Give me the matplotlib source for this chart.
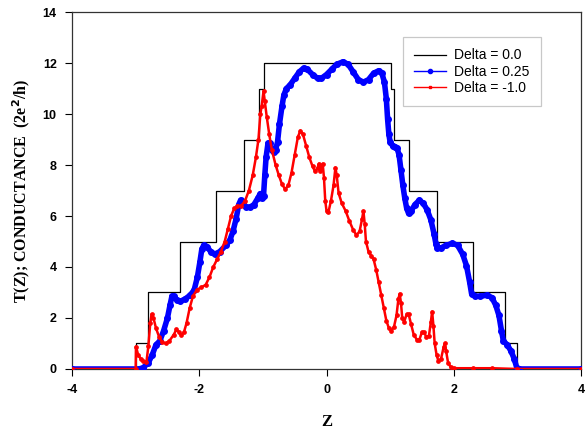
import matplotlib
matplotlib.use("Agg")
import matplotlib.pyplot as plt
from matplotlib.lines import Line2D
import numpy as np

plt.rcParams["axes.unicode_minus"] = False

# Delta = 0.0 staircase: step edges and levels
step_z = [-4.0, -3.0, -2.8, -2.3, -1.73, -1.3, -1.06, -0.99, 1.01, 1.06, 1.30, 1.73, 2.30, 2.80, 3.00, 4.0]
step_t = [0, 1, 3, 5, 7, 9, 11, 12, 11, 9, 7, 5, 3, 1, 0, 0]

# Delta = 0.25
blue_z = [-4.0, -2.95, -2.88, -2.80, -2.74, -2.68, -2.62, -2.56, -2.50, -2.46, -2.43, -2.40, -2.35, -2.30,
          -2.22, -2.14, -2.08, -2.03, -1.99, -1.96, -1.93, -1.88, -1.82, -1.76, -1.68, -1.58, -1.52, -1.47,
          -1.42, -1.38, -1.35, -1.31, -1.27, -1.20, -1.14, -1.08, -1.04, -1.01, -0.99, -0.97, -0.95, -0.92,
          -0.89, -0.86, -0.83, -0.80, -0.77, -0.74, -0.70, -0.67, -0.63, -0.57, -0.50, -0.43, -0.36, -0.30,
          -0.22, -0.14, -0.08, 0.0, 0.08, 0.16, 0.26, 0.34, 0.42, 0.50, 0.58, 0.66, 0.74, 0.82, 0.87, 0.91,
          0.94, 0.96, 0.98, 1.00, 1.04, 1.08, 1.11, 1.14, 1.17, 1.20, 1.23, 1.26, 1.29, 1.33, 1.39, 1.46,
          1.52, 1.58, 1.64, 1.69, 1.72, 1.74, 1.80, 1.88, 1.98, 2.06, 2.14, 2.20, 2.25, 2.28, 2.34, 2.42,
          2.52, 2.60, 2.66, 2.71, 2.75, 2.78, 2.84, 2.90, 2.95, 2.99, 3.02, 4.0]
blue_t = [0, 0, 0.05, 0.25, 0.55, 0.95, 1.1, 1.5, 2.0, 2.5, 2.85, 2.85, 2.7, 2.65,
          2.75, 2.9, 3.1, 3.6, 4.2, 4.7, 4.85, 4.8, 4.6, 4.5, 4.6, 4.85, 5.05, 5.4,
          5.9, 6.45, 6.62, 6.55, 6.35, 6.35, 6.45, 6.7, 6.88, 6.7, 6.8, 7.6, 8.3, 8.85,
          8.85, 8.6, 8.5, 8.6, 8.9, 9.6, 10.3, 10.75, 11.0, 11.15, 11.4, 11.65, 11.8, 11.75,
          11.55, 11.4, 11.4, 11.55, 11.75, 11.95, 12.05, 11.95, 11.65, 11.35, 11.25, 11.35, 11.6, 11.7, 11.6, 11.25,
          10.6, 9.8, 9.2, 8.9, 8.75, 8.7, 8.65, 8.4, 7.8, 7.2, 6.7, 6.3, 6.1, 6.2, 6.45, 6.62,
          6.5, 6.25, 5.85, 5.3, 4.9, 4.75, 4.75, 4.85, 4.93, 4.85, 4.5, 4.05, 3.4, 2.95, 2.85, 2.85,
          2.9, 2.8, 2.5, 2.1, 1.5, 1.1, 0.95, 0.7, 0.4, 0.05, 0, 0]

# Delta = -1.0
red_z = [-4.0, -3.0, -2.995, -2.96, -2.92, -2.88, -2.83, -2.80, -2.77, -2.75, -2.72, -2.68, -2.63, -2.58,
         -2.53, -2.47, -2.40, -2.36, -2.32, -2.28, -2.24, -2.20, -2.15, -2.10, -2.04, -1.97, -1.90, -1.84,
         -1.78, -1.72, -1.66, -1.60, -1.55, -1.50, -1.45, -1.40, -1.34, -1.28, -1.22, -1.16, -1.11, -1.07,
         -1.04, -1.02, -0.99, -0.97, -0.94, -0.90, -0.86, -0.80, -0.75, -0.70, -0.65, -0.60, -0.55, -0.50,
         -0.45, -0.41, -0.37, -0.32, -0.27, -0.22, -0.18, -0.14, -0.12, -0.10, -0.08, -0.06, -0.04, -0.02,
         0.0, 0.03, 0.07, 0.11, 0.14, 0.16, 0.19, 0.24, 0.30, 0.36, 0.42, 0.47, 0.52, 0.56, 0.58, 0.60,
         0.62, 0.66, 0.70, 0.74, 0.78, 0.82, 0.86, 0.90, 0.94, 0.98, 1.02, 1.06, 1.10, 1.13, 1.15, 1.17,
         1.19, 1.22, 1.26, 1.29, 1.33, 1.37, 1.42, 1.46, 1.50, 1.53, 1.57, 1.61, 1.64, 1.66, 1.68, 1.70,
         1.73, 1.76, 1.80, 1.84, 1.86, 1.88, 1.91, 1.95, 2.0, 2.3, 2.6, 3.0, 4.0]
red_t = [0, 0, 0.88, 0.55, 0.4, 0.3, 0.28, 0.9, 1.8, 2.15, 2.0, 1.6, 1.25, 1.05,
         1.0, 1.1, 1.35, 1.55, 1.45, 1.32, 1.45, 1.8, 2.4, 2.85, 3.1, 3.2, 3.3, 3.6,
         4.0, 4.3, 4.6, 5.0, 5.5, 6.0, 6.3, 6.4, 6.4, 6.6, 7.0, 7.6, 8.3, 9.0,
         10.0, 10.3, 10.9, 10.5, 9.9, 9.2, 8.6, 8.0, 7.6, 7.25, 7.05, 7.2, 7.7, 8.4,
         9.1, 9.35, 9.2, 8.75, 8.3, 7.95, 7.75, 7.9, 8.05, 7.75, 7.95, 8.05, 7.5, 6.6,
         6.2, 6.15, 6.6, 7.2, 7.9, 7.6, 6.9, 6.5, 6.2, 5.8, 5.45, 5.25, 5.4, 5.9, 6.2, 5.7,
         5.0, 4.6, 4.45, 4.3, 3.9, 3.4, 2.9, 2.4, 1.9, 1.6, 1.5, 1.65, 2.1, 2.75, 2.95, 2.6,
         2.0, 1.85, 2.15, 2.15, 1.75, 1.35, 1.15, 1.15, 1.45, 1.45, 1.25, 1.3, 1.85, 2.25, 1.7, 1.0,
         0.55, 0.3, 0.4, 0.85, 1.0, 0.7, 0.25, 0.08, 0.03, 0.03, 0.03, 0.0, 0.0]

legend_labels = ["Delta = 0.0", "Delta = 0.25", "Delta = -1.0"]
x_ticks = [-4, -2, 0, 2, 4]
y_ticks = [0, 2, 4, 6, 8, 10, 12, 14]

fig = plt.figure(figsize=(5.86, 4.30), dpi=100)
ax = fig.add_axes([0.1229, 0.1419, 0.8686, 0.8301])

ax.plot(step_z, step_t, color="black", lw=0.9, drawstyle="steps-post", zorder=2)
ax.plot(blue_z, blue_t, color="#0000ff", lw=4.0, marker="o", ms=4, solid_capstyle="round", zorder=3)
ax.plot(red_z, red_t, color="#ff0000", lw=1.8, marker="o", ms=2.4, zorder=4)

ax.set_xlim(-4, 4)
ax.set_ylim(0, 14)
ax.set_xticks(x_ticks)
ax.set_yticks(y_ticks)
ax.tick_params(direction="out", length=5, width=0.8, top=False, right=False, pad=6)
for lab in ax.get_xticklabels() + ax.get_yticklabels():
    lab.set_fontfamily("Liberation Sans")
    lab.set_fontweight("bold")
    lab.set_fontsize(9)
for s in ax.spines.values():
    s.set_linewidth(0.9)
    s.set_color("#333333")

ax.set_xlabel("Z", family="Liberation Serif", fontweight="bold", fontsize=12, labelpad=13)
ax.set_ylabel("T(Z); CONDUCTANCE  (2e$^{\\mathbf{2}}$/h)", family="Liberation Serif",
              fontweight="bold", fontsize=11.5, labelpad=8)

handles = [Line2D([], [], color="black", lw=0.9),
           Line2D([], [], color="#0000ff", lw=1, marker="o", ms=3),
           Line2D([], [], color="#ff0000", lw=1, marker="s", ms=2)]
leg = ax.legend(handles, legend_labels, loc="upper left", bbox_to_anchor=(0.65, 0.929),
                borderaxespad=0,
                prop={"family": "Liberation Sans", "size": 10}, fancybox=False,
                edgecolor="#c8c8c8", framealpha=1, handlelength=2.3, borderpad=0.8,
                labelspacing=0.15, handletextpad=0.6)
leg.get_frame().set_linewidth(0.9)

fig.savefig("out.png", dpi=100)
